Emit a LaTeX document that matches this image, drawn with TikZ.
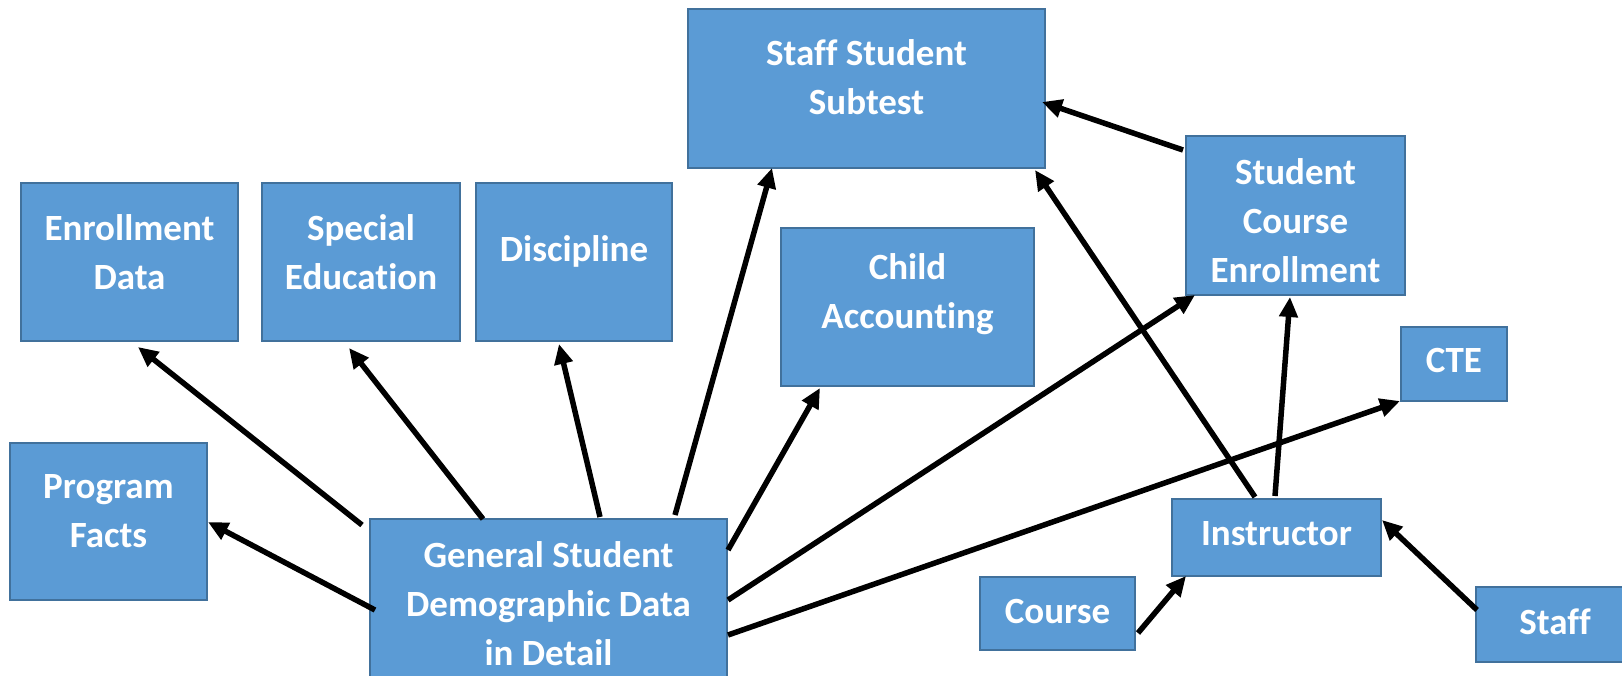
\documentclass[tikz,border=0pt]{standalone}
\usepackage{fontspec}
\setmainfont[Ligatures={NoCommon,NoRequired,NoContextual,NoRare},Contextuals=NoAlternate]{Carlito}
\usetikzlibrary{arrows.meta}
\definecolor{boxfill}{RGB}{91,155,213}
\definecolor{boxline}{RGB}{65,113,156}
\newcommand{\nolig}{\kern0pt}
\begin{document}
\begin{tikzpicture}[x=1pt,y=-1pt,
  box/.style={draw=boxline,line width=2pt,fill=boxfill,rectangle,inner sep=0pt,outer sep=0pt},
  lbl/.style={text=white,font=\fontsize{37}{49}\selectfont\bfseries,align=center,inner sep=0pt},
  conn/.style={line width=5.5pt,-{Triangle[length=20pt,width=18pt]}}]
\useasboundingbox (0,0) rectangle (1622,675);
\clip (0,0) rectangle (1622,675);
\fill[white] (0,0) rectangle (1622,675);

\node[box,minimum width=357,minimum height=159,label={[lbl,yshift=11pt]center:Staf\nolig f Student\\Subtest}] (sub) at (866.5,88.5) {};
\node[box,minimum width=217,minimum height=158,label={[lbl,yshift=10pt]center:Enrollment\\Data}] (enr) at (129.5,262) {};
\node[box,minimum width=198,minimum height=158,label={[lbl,yshift=10pt]center:Special\\Education}] (spe) at (361,262) {};
\node[box,minimum width=196,minimum height=158,label={[lbl,yshift=11pt]center:Discipline}] (dis) at (574,262) {};
\node[box,minimum width=253,minimum height=158,label={[lbl,yshift=13pt]center:Child\\Accoun\nolig ting}] (chi) at (907.5,307) {};
\node[box,minimum width=197,minimum height=157,label={[lbl,yshift=10pt]center:Program\\Facts}] (pro) at (108.5,521.5) {};
\node[box,minimum width=357,minimum height=190,label={[lbl,yshift=10pt]center:General Student\\Demographic Data\\in Detail}] (gen) at (548.5,614) {};
\node[box,minimum width=219,minimum height=159,label={[lbl,yshift=-5.5pt]center:Student\\Course\\Enrollment}] (cse) at (1295.5,215.5) {};
\node[box,minimum width=106,minimum height=74,label={[lbl,yshift=4pt]center:CTE}] (cte) at (1454,364) {};
\node[box,minimum width=209,minimum height=77,label={[lbl,yshift=4pt]center:Instructor}] (ins) at (1276.5,537.5) {};
\node[box,minimum width=155,minimum height=73,label={[lbl,yshift=2.5pt]center:Course}] (cou) at (1057.5,613.5) {};
\node[box,minimum width=158,minimum height=75,label={[lbl,yshift=3pt]center:Staf\nolig f}] (sta) at (1555,624.5) {};

\draw[conn] ([shift={(-186.5,-89)}]gen.center) -- ([shift={(8.5,85)}]enr.center);
\draw[conn] ([shift={(-65.5,-95)}]gen.center) -- ([shift={(-12,86)}]spe.center);
\draw[conn] ([shift={(51.5,-97)}]gen.center) -- ([shift={(-15,82)}]dis.center);
\draw[conn] ([shift={(126.5,-99)}]gen.center) -- ([shift={(-94.5,79.5)}]sub.center);
\draw[conn] ([shift={(179.5,-64)}]gen.center) -- ([shift={(-87.5,81)}]chi.center);
\draw[conn] ([shift={(179.5,-14)}]gen.center) -- ([shift={(-100.5,79.5)}]cse.center);
\draw[conn] ([shift={(179.5,21)}]gen.center) -- ([shift={(-54,37)}]cte.center);
\draw[conn] ([shift={(-173.5,-4)}]gen.center) -- ([shift={(99.5,0.5)}]pro.center);
\draw[conn] ([shift={(-21.5,-40.5)}]ins.center) -- ([shift={(168.5,81.5)}]sub.center);
\draw[conn] ([shift={(-1.5,-41.5)}]ins.center) -- ([shift={(-5.5,81.5)}]cse.center);
\draw[conn] ([shift={(-112.5,-65.5)}]cse.center) -- ([shift={(175.5,13.5)}]sub.center);
\draw[conn] ([shift={(80.5,19.5)}]cou.center) -- ([shift={(-90.5,38.5)}]ins.center);
\draw[conn] ([shift={(-78,-14.5)}]sta.center) -- ([shift={(105.5,-17.5)}]ins.center);
\end{tikzpicture}
\end{document}
